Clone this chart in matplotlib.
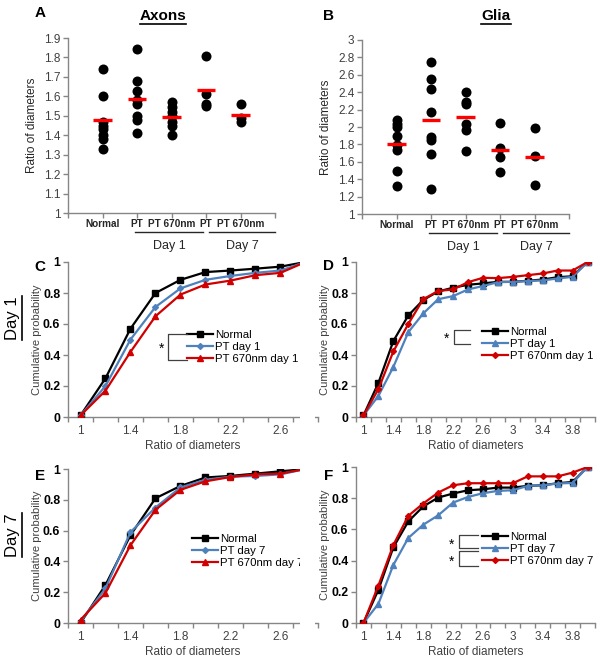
import numpy as np
import matplotlib
matplotlib.use('Agg')
from matplotlib import pyplot as plt
from matplotlib.lines import Line2D
from matplotlib.patches import Rectangle

plt.rcParams['font.family'] = ['Liberation Sans', 'DejaVu Sans']

# top row: ratio of diameters per animal, with group means
groups = ['Normal', 'PT', 'PT 670nm', 'PT', 'PT 670nm']
axon_normal = [1.74, 1.60, 1.47, 1.45, 1.43, 1.40, 1.38, 1.33]
axon_pt_d1 = [1.845, 1.68, 1.63, 1.58, 1.56, 1.50, 1.48, 1.41]
axon_670_d1 = [1.57, 1.545, 1.52, 1.50, 1.47, 1.45, 1.40]
axon_pt_d7 = [1.81, 1.61, 1.56, 1.55]
axon_670_d7 = [1.56, 1.49, 1.47]
axon_means = [1.48, 1.585, 1.495, 1.635, 1.505]

glia_normal = [2.085, 2.04, 2.0, 1.9, 1.795, 1.74, 1.5, 1.32]
glia_pt_d1 = [2.745, 2.555, 2.435, 2.17, 1.89, 1.855, 1.69, 1.29]
glia_670_d1 = [2.40, 2.29, 2.26, 2.03, 1.97, 1.72]
glia_pt_d7 = [2.045, 1.76, 1.655, 1.485]
glia_670_d7 = [1.99, 1.665, 1.33]
glia_means = [1.805, 2.08, 2.11, 1.74, 1.66]

# cumulative probability curves
ratio_axon = [1.0, 1.2, 1.4, 1.6, 1.8, 2.0, 2.2, 2.4, 2.6, 2.8]
ratio_glia = [1.0, 1.2, 1.4, 1.6, 1.8, 2.0, 2.2, 2.4, 2.6, 2.8, 3.0, 3.2, 3.4, 3.6, 3.8, 4.0]

c_normal = [0.01, 0.25, 0.57, 0.80, 0.885, 0.935, 0.945, 0.957, 0.97, 1.0]
c_pt = [0.01, 0.20, 0.50, 0.71, 0.83, 0.885, 0.91, 0.93, 0.945, 1.0]
c_670 = [0.01, 0.17, 0.42, 0.65, 0.79, 0.855, 0.88, 0.915, 0.93, 1.0]

e_normal = [0.0, 0.247, 0.57, 0.81, 0.89, 0.945, 0.955, 0.97, 0.985, 1.0]
e_pt = [0.01, 0.225, 0.59, 0.75, 0.88, 0.93, 0.95, 0.955, 0.965, 1.0]
e_670 = [0.02, 0.195, 0.505, 0.735, 0.865, 0.92, 0.948, 0.965, 0.97, 1.0]

d_normal = [0.01, 0.22, 0.49, 0.655, 0.755, 0.81, 0.834, 0.853, 0.862, 0.872, 0.872, 0.879, 0.887, 0.902, 0.908, 1.0]
d_pt = [0.01, 0.136, 0.323, 0.547, 0.668, 0.76, 0.78, 0.823, 0.845, 0.87, 0.872, 0.877, 0.881, 0.894, 0.904, 1.0]
d_670 = [0.01, 0.18, 0.423, 0.60, 0.76, 0.813, 0.823, 0.87, 0.898, 0.896, 0.904, 0.915, 0.926, 0.945, 0.945, 1.0]

f_normal = [0.0, 0.213, 0.485, 0.651, 0.747, 0.804, 0.83, 0.851, 0.857, 0.868, 0.868, 0.879, 0.883, 0.896, 0.904, 1.0]
f_pt = [0.0, 0.123, 0.372, 0.545, 0.63, 0.69, 0.772, 0.808, 0.832, 0.847, 0.851, 0.879, 0.883, 0.894, 0.898, 1.0]
f_670 = [0.0, 0.24, 0.50, 0.687, 0.766, 0.836, 0.883, 0.896, 0.896, 0.896, 0.896, 0.94, 0.94, 0.94, 0.964, 1.0]

W, H = 600, 661
GRAY = '#868686'
BLUE = '#4F81BD'
RED = '#D00000'

fig = plt.figure(figsize=(W / 100, H / 100), dpi=100)
renderer = fig.canvas.get_renderer()


def add_ax(l, t, r, b):
    return fig.add_axes([l / W, 1 - b / H, (r - l) / W, (b - t) / H])


def fline(xs, ys, color='#404040', lw=0.9):
    fig.add_artist(Line2D([x / W for x in xs], [1 - y / H for y in ys],
                          transform=fig.transFigure, color=color, lw=lw))


def ftext(x, y, s, **kw):
    return fig.text(x / W, 1 - y / H, s, ha='center', va='center', **kw)


def underline(t, vertical=False, lw=1.2):
    bb = t.get_window_extent(renderer).transformed(fig.transFigure.inverted())
    if vertical:
        xs, ys = [bb.x1 + 0.002] * 2, [bb.y0, bb.y1]
    else:
        xs, ys = [bb.x0, bb.x1], [bb.y0 - 0.002] * 2
    fig.add_artist(Line2D(xs, ys, transform=fig.transFigure, color='black', lw=lw))


def style(ax):
    for s in ['top', 'right']:
        ax.spines[s].set_visible(False)
    for s in ['left', 'bottom']:
        ax.spines[s].set_color(GRAY)
        ax.spines[s].set_linewidth(1.0)
    ax.tick_params(which='both', color=GRAY, length=3.5, width=1.0)


# ---- A & B: dot plots ----
def dot_panel(ax, groups_vals, means, ylim, yticks):
    style(ax)
    for i, vals in enumerate(groups_vals):
        ax.plot([i + 1] * len(vals), vals, 'o', color='black', ms=7.2, mec='none')
        ax.hlines(means[i], i + 1 - 0.27, i + 1 + 0.27, color='#FF0000', lw=2.4, zorder=3)
    ax.set_xlim(0, 6)
    ax.set_ylim(*ylim)
    ax.set_yticks(yticks)
    ax.set_yticklabels([f'{v:g}' for v in yticks])
    ax.set_xticks(range(7))
    ax.set_xticklabels([])
    ax.tick_params(axis='y', labelsize=8.5, labelcolor='#404040', pad=2)
    ax.set_ylabel('Ratio of diameters', fontsize=8.5, color='#262626', labelpad=4)
    tr = ax.get_xaxis_transform()
    for i, g in enumerate(groups):
        ax.text(i + 1, -0.065, g, transform=tr, ha='center', va='center',
                fontsize=7.2, fontweight='bold', color='#262626', clip_on=False)
    for x0, x1, xc, lab in [(1.95, 3.9, 2.95, 'Day 1'), (4.1, 6.0, 5.05, 'Day 7')]:
        ax.plot([x0, x1], [-0.11, -0.11], transform=tr, color='#262626', lw=1.0, clip_on=False)
        ax.text(xc, -0.19, lab, transform=tr, ha='center', va='center', fontsize=9,
                color='#262626', clip_on=False)


axA = add_ax(68, 38, 275, 213)
dot_panel(axA, [axon_normal, axon_pt_d1, axon_670_d1, axon_pt_d7, axon_670_d7],
          axon_means, (1.0, 1.9), np.round(np.arange(1.0, 1.91, 0.1), 1))
axB = add_ax(362, 40, 569, 214)
dot_panel(axB, [glia_normal, glia_pt_d1, glia_670_d1, glia_pt_d7, glia_670_d7],
          glia_means, (1.0, 3.0), np.round(np.arange(1.0, 3.01, 0.2), 1))

underline(ftext(163, 16, 'Axons', fontsize=11, fontweight='bold'))
underline(ftext(496, 16, 'Glia', fontsize=11, fontweight='bold'))
for x, y, s in [(40, 13, 'A'), (329, 16, 'B'), (40, 267, 'C'), (329, 266, 'D'),
                (40, 476, 'E'), (329, 476, 'F')]:
    ftext(x, y, s, fontsize=11, fontweight='bold')
underline(ftext(13, 318, 'Day 1', fontsize=12, rotation=90), vertical=True)
underline(ftext(13, 535, 'Day 7', fontsize=12, rotation=90), vertical=True)


# ---- C-F: cumulative probability ----
def cum_panel(ax, xs, series, labels, xlim, xticks, legend_xy):
    style(ax)
    for (ys, color, marker, ms), lab in zip(series, labels):
        ax.plot(xs, ys, color=color, marker=marker, ms=ms, lw=1.6, label=lab, zorder=3)
    ax.set_xlim(*xlim)
    ax.set_ylim(0, 1)
    ax.set_yticks([0, 0.2, 0.4, 0.6, 0.8, 1.0])
    ax.set_yticklabels(['0', '0.2', '0.4', '0.6', '0.8', '1'])
    ax.set_xticks(xticks)
    ax.set_xticklabels([f'{v:g}' for v in xticks])
    ax.set_xticks(np.arange(xlim[0], xlim[1] + 0.01, 0.2), minor=True)
    ax.tick_params(axis='x', which='major', length=0, pad=6, labelsize=8.5, labelcolor='#404040')
    ax.tick_params(axis='y', labelsize=8.8, pad=2)
    for t in ax.get_yticklabels():
        t.set_fontweight('bold')
    ax.set_xlabel('Ratio of diameters', fontsize=8.5, color='#404040', labelpad=2)
    ax.set_ylabel('Cumulative probability', fontsize=8, color='#404040', labelpad=1)
    ax.legend(loc='center left', bbox_to_anchor=(legend_xy[0] / W, 1 - legend_xy[1] / H),
              bbox_transform=fig.transFigure, frameon=False, fontsize=8.2,
              handlelength=2.3, handletextpad=0.15, labelspacing=0.2,
              borderpad=0, borderaxespad=0)


axC = add_ax(68, 262, 318, 417)
cum_panel(axC, ratio_axon,
          [(c_normal, 'black', 's', 5), (c_pt, BLUE, 'D', 3), (c_670, RED, '^', 5)],
          ['Normal', 'PT day 1', 'PT 670nm day 1'],
          (0.9, 2.9), [1, 1.4, 1.8, 2.2, 2.6], (187, 347))
axE = add_ax(68, 469, 318, 623)
cum_panel(axE, ratio_axon,
          [(e_normal, 'black', 's', 5), (e_pt, BLUE, 'D', 3), (e_670, RED, '^', 5)],
          ['Normal', 'PT day 7', 'PT 670nm day 7'],
          (0.9, 2.9), [1, 1.4, 1.8, 2.2, 2.6], (192, 551))
axD = add_ax(356, 262, 595, 417)
cum_panel(axD, ratio_glia,
          [(d_normal, 'black', 's', 5), (d_pt, BLUE, '^', 4.5), (d_670, RED, 'D', 3)],
          ['Normal', 'PT day 1', 'PT 670nm day 1'],
          (0.9, 4.1), [1, 1.4, 1.8, 2.2, 2.6, 3, 3.4, 3.8], (482, 344))
axF = add_ax(356, 467, 595, 623)
cum_panel(axF, ratio_glia,
          [(f_normal, 'black', 's', 5), (f_pt, BLUE, '^', 4.5), (f_670, RED, 'D', 3)],
          ['Normal', 'PT day 7', 'PT 670nm day 7'],
          (0.9, 4.1), [1, 1.4, 1.8, 2.2, 2.6, 3, 3.4, 3.8], (482, 549))

# significance brackets
fline([187, 168, 168, 187], [334, 334, 360, 360])
ftext(162, 349, '*', fontsize=10)
fline([470, 454, 454, 470], [330, 330, 344, 344])
ftext(447, 339, '*', fontsize=10)
fline([478, 459, 459, 478], [535, 535, 548, 548])
fline([478, 459, 459, 478], [551, 551, 566, 566])
ftext(452, 545, '*', fontsize=10)
ftext(452, 562, '*', fontsize=10)

# left column is cropped at the middle of the figure
fig.add_artist(Rectangle((300 / W, 0), 15 / W, 420 / H, transform=fig.transFigure,
                         facecolor='white', edgecolor='none', zorder=5))

fig.savefig('out.png', dpi=100)
